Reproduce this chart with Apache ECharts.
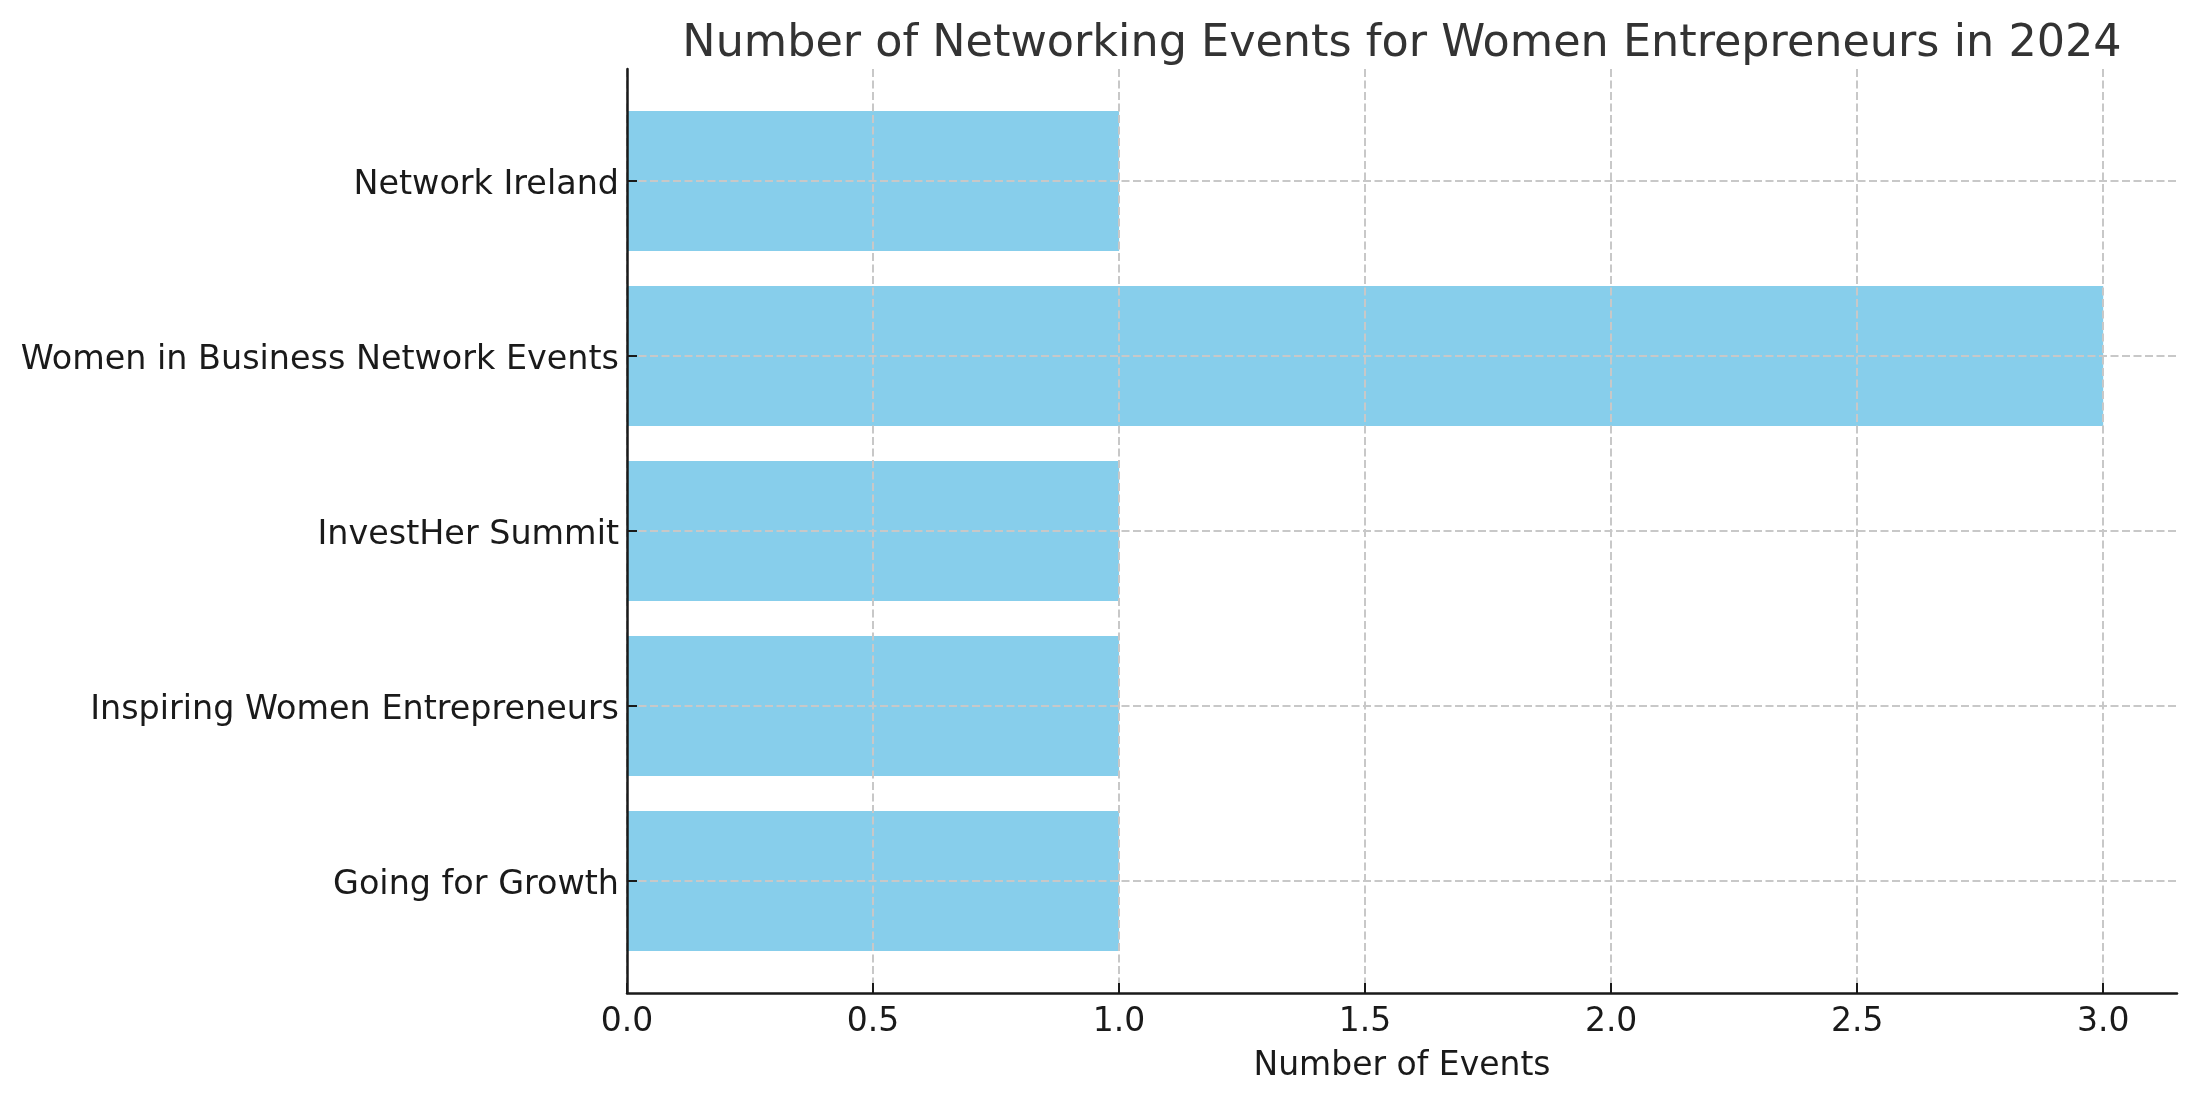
<!DOCTYPE html>
<html>
<head>
<meta charset="utf-8">
<script src="https://cdn.jsdelivr.net/npm/echarts@6/dist/echarts.min.js"></script>
<style>
  html, body { margin: 0; padding: 0; background: #ffffff; }
  #chart { width: 2197px; height: 1101px; }
</style>
</head>
<body>
<div id="chart"></div>
<script>
const categories = [
  "Going for Growth",
  "Inspiring Women Entrepreneurs",
  "InvestHer Summit",
  "Women in Business Network Events",
  "Network Ireland"
];
const eventCounts = [1, 1, 1, 3, 1];
const xTickValues = [0, 0.5, 1.0, 1.5, 2.0, 2.5, 3.0];
const yTickValues = [0, 1, 2, 3, 4];
const titleText = "Number of Networking Events for Women Entrepreneurs in 2024";
const xAxisTitle = "Number of Events";

const BAR_COLOR = "#87CEEB";
const BAR_HEIGHT = 0.8;
const FONT = "DejaVu Sans";
const GRID_COLOR = "#c8c8c8";
const AXIS_COLOR = "#1a1a1a";

const chart = echarts.init(document.getElementById("chart"), null, { renderer: "canvas" });

const barData = eventCounts.map((v, i) => [v, yTickValues[i]]);

const option = {
  backgroundColor: "#ffffff",
  animation: false,
  title: {
    text: titleText,
    left: 1402,
    textAlign: "center",
    top: 22,
    padding: 0,
    textStyle: { fontFamily: FONT, fontSize: 44.5, fontWeight: "normal", color: "#333333" }
  },
  grid: { left: 627, right: 20, top: 69, bottom: 108, containLabel: false },
  xAxis: {
    type: "value",
    min: 0,
    max: 3.15,
    z: 5,
    name: xAxisTitle,
    nameLocation: "middle",
    nameGap: 57,
    nameTextStyle: { fontFamily: FONT, fontSize: 33, color: AXIS_COLOR },
    axisLine: { show: true, onZero: false, lineStyle: { color: AXIS_COLOR, width: 2.5 } },
    axisTick: { show: true, inside: true, length: 10, customValues: xTickValues, lineStyle: { color: AXIS_COLOR, width: 2 } },
    axisLabel: {
      customValues: xTickValues,
      margin: 13,
      fontFamily: FONT, fontSize: 33, color: AXIS_COLOR,
      formatter: v => Number(v).toFixed(1)
    },
    splitLine: {
      show: true,
      customValues: xTickValues,
      lineStyle: { color: GRID_COLOR, width: 2, type: [8, 3.5] }
    }
  },
  yAxis: {
    type: "value",
    min: -0.64,
    max: 4.64,
    z: 5,
    axisLine: { show: true, onZero: false, lineStyle: { color: AXIS_COLOR, width: 2.5 } },
    axisTick: { show: true, inside: true, length: 10, customValues: yTickValues, lineStyle: { color: AXIS_COLOR, width: 2 } },
    axisLabel: {
      customValues: yTickValues,
      margin: 8,
      fontFamily: FONT, fontSize: 33.4, color: AXIS_COLOR,
      formatter: v => "{c|" + (categories[Math.round(v)] || "") + "}",
      rich: {
        c: { fontFamily: FONT, fontSize: 33.4, color: AXIS_COLOR, padding: [9, 0, 0, 0] }
      }
    },
    splitLine: {
      show: true,
      customValues: yTickValues,
      lineStyle: { color: GRID_COLOR, width: 2, type: [8, 3.5] }
    }
  },
  series: [{
    type: "custom",
    z: 1,
    data: barData,
    encode: { x: 0, y: 1 },
    renderItem: function (params, api) {
      const val = api.value(0);
      const yv = api.value(1);
      const p0 = api.coord([0, yv]);
      const p1 = api.coord([val, yv]);
      const h = Math.abs(api.size([0, BAR_HEIGHT])[1]);
      return {
        type: "rect",
        shape: { x: p0[0], y: p0[1] - h / 2, width: p1[0] - p0[0], height: h },
        style: { fill: BAR_COLOR }
      };
    }
  }]
};

chart.setOption(option);
</script>
</body>
</html>
